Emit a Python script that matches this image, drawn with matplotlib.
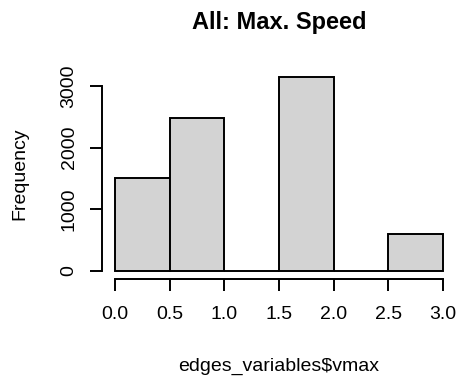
import matplotlib
matplotlib.use("Agg")
import matplotlib.pyplot as plt
import numpy as np

plt.rcParams['font.family'] = ['Liberation Sans', 'DejaVu Sans']

# histogram of edges_variables$vmax (bins of 0.5)
bin_edges = [0.0, 0.5, 1.0, 1.5, 2.0, 2.5, 3.0]
counts = [1514, 2486, 0, 3141, 0, 605]
x_ticks = [0.0, 0.5, 1.0, 1.5, 2.0, 2.5, 3.0]
y_ticks = [0, 1000, 2000, 3000]
title = "All: Max. Speed"
x_label = "edges_variables$vmax"
y_label = "Frequency"

W, H = 457, 376
fig = plt.figure(figsize=(W / 100, H / 100), dpi=100)
ax = fig.add_axes([102 / W, 1 - 278.7 / H, (456 - 102) / W, (278.7 - 69.6) / H])

lw = 1.4
ax.bar(bin_edges[:-1], counts, width=np.diff(bin_edges), align='edge',
       color='#D3D3D3', edgecolor='black', linewidth=lw)

# R style: 4% padding on both axes
x0, x1 = bin_edges[0], bin_edges[-1]
y0, y1 = 0, max(counts)
ax.set_xlim(x0 - 0.04 * (x1 - x0), x1 + 0.04 * (x1 - x0))
ax.set_ylim(y0 - 0.04 * (y1 - y0), y1 + 0.04 * (y1 - y0))

for s in ['top', 'right']:
    ax.spines[s].set_visible(False)
ax.spines['left'].set_bounds(y_ticks[0], y_ticks[-1])
ax.spines['bottom'].set_bounds(x_ticks[0], x_ticks[-1])
ax.spines['left'].set_linewidth(lw)
ax.spines['bottom'].set_linewidth(lw)

ax.set_xticks(x_ticks)
ax.set_xticklabels([f"{v:.1f}" for v in x_ticks])
ax.set_yticks(y_ticks)
ax.set_yticklabels([str(v) for v in y_ticks], rotation=90, va='center')
ax.tick_params(axis='both', length=8.6, width=lw, labelsize=14, direction='out')
ax.tick_params(axis='x', pad=11)
ax.tick_params(axis='y', pad=9)

fig.text(279 / W, 1 - 29 / H, title, ha='center', va='baseline',
         fontsize=17, fontweight='bold')
fig.text(279 / W, 1 - 371 / H, x_label, ha='center', va='baseline', fontsize=14)
fig.text(20 / W, 1 - 174 / H, y_label, ha='center', va='center',
         rotation=90, fontsize=14)

fig.savefig("out.png", dpi=100)
